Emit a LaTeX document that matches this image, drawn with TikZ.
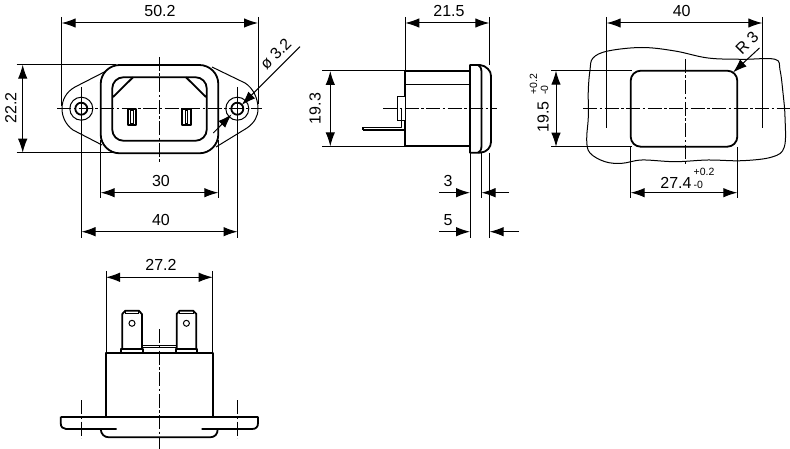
\documentclass[tikz,border=0pt]{standalone}
\usepackage{fontspec}
\setmainfont{Liberation Sans}
\usetikzlibrary{arrows.meta}
\tikzset{
   thin line/.style ={
      -, line width=1pt, color=black,
   },
   thick line/.style ={
      -, line width=1.8pt, color=black, line join=round,
   },
   center line/.style ={
      -, line width=0.9pt, color=black,
      dash pattern=on 14pt off 2.5pt on 2.5pt off 2.5pt,
   },
   dim arrow/.style ={
      -{Latex[length=14pt,width=9.5pt]}, line width=1pt, color=black,
   },
   dim both/.style ={
      {Latex[length=14pt,width=9.5pt]}-{Latex[length=14pt,width=9.5pt]}, line width=1pt, color=black,
   },
   label/.style ={
      font=\fontsize{16}{17}\selectfont, inner sep=0pt, text=black,
   },
   small label/.style ={
      font=\fontsize{10.5}{11}\selectfont, inner sep=0pt, text=black,
   },
}
\begin{document}
\begin{tikzpicture}[x=1pt,y=-1pt]

      \useasboundingbox (0,0) rectangle (790,449);

      % front view
      \draw[thin line] (116,66) -- (75,87)
         .. controls (66,92) and (62,100) .. (62,108.7)
         .. controls (62,117) and (66,125) .. (73,130) -- (102,145);
      \draw[thin line] (212,67) -- (245,83)
         .. controls (253,88) and (258,98) .. (258,108.7)
         .. controls (258,117) and (254,123) .. (247,128) -- (216,147);
      \draw[thick line, fill=white, rounded corners=19pt] (100.7,65) rectangle (218.3,153.3);
      \draw[thick line, rounded corners=11pt] (112.3,77.3) rectangle (206.7,140.7);
      \draw[thick line] (133,77.3) -- (113,97);
      \draw[thick line] (186,77.3) -- (206,97);
      \foreach \sx in {127.7,182.3} {
         \draw[thick line] (\sx,109.3) rectangle (\sx+8.5,125);
         \draw[thin line] (\sx+3,111) rectangle (\sx+5.5,123.5);
      }
      \foreach \hx in {81.3,237.3} {
         \draw[thin line] (\hx,108.7) circle (11.5);
         \draw[thick line] (\hx,108.7) circle (6);
      }
      \draw[center line] (57,108.7) -- (262,108.7);
      \draw[center line] (159.3,57) -- (159.3,162);

      \draw[thin line] (61.7,17) -- (61.7,106);
      \draw[thin line] (258,17) -- (258,104);
      \draw[dim both] (61.7,23) -- (258,23);
      \node[label] (front_width) at (160,11) {50.2};

      \draw[thin line] (16.7,64.7) -- (116,64.7);
      \draw[thin line] (16.7,152.7) -- (118,152.7);
      \draw[dim both] (22.7,64.7) -- (22.7,152.7);
      \node[label, rotate=90] (front_height) at (10.7,108) {22.2};

      \draw[thin line] (100.7,140) -- (100.7,198);
      \draw[thin line] (218.3,140) -- (218.3,198);
      \draw[dim both] (100.7,192.7) -- (218.3,192.7);
      \node[label] (front_body) at (161,181) {30};

      \draw[thin line] (81.5,87) -- (81.5,238);
      \draw[thin line] (237.5,87) -- (237.5,238);
      \draw[dim both] (81.5,231.7) -- (237.5,231.7);
      \node[label] (front_holes) at (161,220) {40};

      \draw[dim arrow] (300,46.7) -- (241.7,105);
      \draw[dim arrow] (213.3,133) -- (231.7,114.3);
      \node[label, rotate=45] (hole_dia) at (275.7,54) {ø 3.2};

      % side view
      \draw[thick line] (405.3,71) rectangle (470,146.3);
      \draw[thin line] (405.3,85) -- (470,85);
      \draw[thick line] (470,65) -- (480,65)
         .. controls (483,65) and (486,67) .. (488,69)
         .. controls (490,71) and (491,73) .. (491,76) -- (491,142)
         .. controls (491,147) and (487,152.5) .. (480,152.7) -- (470,152.7) -- cycle;
      \draw[thick line] (478,65) .. controls (480,66) and (481.5,68) .. (481.5,72)
         -- (481.5,146) .. controls (481.5,150) and (480,152) .. (478,152.7);
      \draw[thin line, fill=white] (397.5,97) rectangle (405.3,120.5);
      \draw[thick line] (363,127.5) -- (401.5,127.5) -- (401.5,108);
      \draw[thick line] (363,130.3) -- (405.3,130.3);
      \draw[thick line] (363,127.5) -- (363,130.3);
      \draw[center line] (383,108.7) -- (497,108.7);

      \draw[thin line] (405.3,17) -- (405.3,71);
      \draw[thin line] (489.3,17) -- (489.3,65);
      \draw[dim both] (405.3,23) -- (489.3,23);
      \node[label] (side_depth) at (449,11) {21.5};

      \draw[thin line] (322,71) -- (405.3,71);
      \draw[thin line] (322,146.3) -- (405.3,146.3);
      \draw[dim both] (330.3,71) -- (330.3,146.3);
      \node[label, rotate=90] (side_height) at (315,108.5) {19.3};

      \draw[thin line] (470,153) -- (470,238);
      \draw[thin line] (481.5,153) -- (481.5,198);
      \draw[thin line] (489.7,153) -- (489.7,238);
      \draw[dim arrow] (439,192.7) -- (470,192.7);
      \draw[dim arrow] (509,192.7) -- (481.5,192.7);
      \node[label] (flange_three) at (448,181) {3};
      \draw[dim arrow] (439,231.7) -- (470,231.7);
      \draw[dim arrow] (519,231.7) -- (489.7,231.7);
      \node[label] (flange_five) at (448,220) {5};

      % panel cut-out
      \draw[thin line] plot[smooth cycle, tension=0.6] coordinates {
         (593,58) (608,51) (642,47.5) (675,51) (708,58) (742,59.3) (775,59.3)
         (780,70) (783,93) (785,117) (784.3,147) (772,157) (742,160.7) (708,160)
         (675,161.7) (642,160) (622,163.3) (605,161.7) (590,153) (586.7,140)
         (588.3,117) (588.3,90) (590,70)
      };
      \draw[thick line, rounded corners=10pt] (630.7,70.7) rectangle (737.3,146.7);
      \draw[center line] (583,108.7) -- (790,108.7);
      \draw[center line] (685,59) -- (685,165);

      \draw[thin line] (606.7,17) -- (606.7,128.5);
      \draw[thin line] (762.3,17) -- (762.3,128.5);
      \draw[dim both] (606.7,23) -- (762.3,23);
      \node[label] (cut_holes) at (681.7,10.5) {40};

      \draw[thin line] (551,70.7) -- (632,70.7);
      \draw[thin line] (551,146.7) -- (632,146.7);
      \draw[dim both] (556,70.7) -- (556,146.7);
      \node[label, rotate=90] (cut_height) at (543,117) {19.5};
      \node[small label, rotate=90, anchor=west] (cut_height_up) at (533.5,95) {+0.2};
      \node[small label, rotate=90, anchor=west] (cut_height_low) at (544.5,95) {-0};

      \draw[thin line] (630.7,147) -- (630.7,198);
      \draw[thin line] (737.3,147) -- (737.3,198);
      \draw[dim both] (630.7,192.7) -- (737.3,192.7);
      \node[label] (cut_width) at (676,183) {27.4};
      \node[small label, anchor=west] (cut_width_up) at (693.5,172) {+0.2};
      \node[small label, anchor=west] (cut_width_low) at (693.5,184.5) {-0};

      \draw[dim arrow] (759.5,48) -- (733,72.5);
      \node[label, rotate=45] (cut_radius) at (747,43) {R 3};

      % bottom view
      \draw[thick line] (106,416.7) -- (106,352.7) -- (212.7,352.7) -- (212.7,416.7);
      \draw[thick line] (60.7,416.7) -- (258,416.7);
      \draw[thick line] (60.7,416.7) -- (60.7,423)
         .. controls (60.7,427) and (63,429) .. (66,429) -- (116.7,429);
      \draw[thick line] (258,416.7) -- (258,423)
         .. controls (258,427) and (256,429) .. (252,429) -- (201.7,429);
      \draw[thick line] (100.7,429) .. controls (101,434) and (104,437.3) .. (109,437.3)
         -- (210,437.3) .. controls (215,437.3) and (217.7,434) .. (217.7,429);

      \foreach \tx in {122.3,176.7} {
         \draw[thick line] (\tx,349) -- (\tx,314) -- (\tx+3,310.7) -- (\tx+16.5,310.7)
            -- (\tx+19.6,314) -- (\tx+19.6,349);
         \draw[thin line] (\tx+3,310.7) -- (\tx+3,313) -- (\tx+16.5,313) -- (\tx+16.5,310.7);
         \draw[thin line] (\tx+9.7,323.3) circle (3);
         \draw[thick line] (\tx-1,352.7) -- (\tx-1,349) -- (\tx+20.6,349) -- (\tx+20.6,352.7);
      }
      \draw[thin line] (142.3,345) -- (176,345);
      \draw[thin line] (142.3,347.5) -- (176,347.5);
      \draw[center line] (159.3,329) -- (159.3,449);
      \draw[center line] (81.3,400) -- (81.3,438);
      \draw[center line] (237.3,400) -- (237.3,438);

      \draw[thin line] (106,271) -- (106,352.7);
      \draw[thin line] (212.7,271) -- (212.7,352.7);
      \draw[dim both] (106,277.3) -- (212.7,277.3);
      \node[label] (bottom_width) at (161,265) {27.2};

   \end{tikzpicture}
\end{document}
